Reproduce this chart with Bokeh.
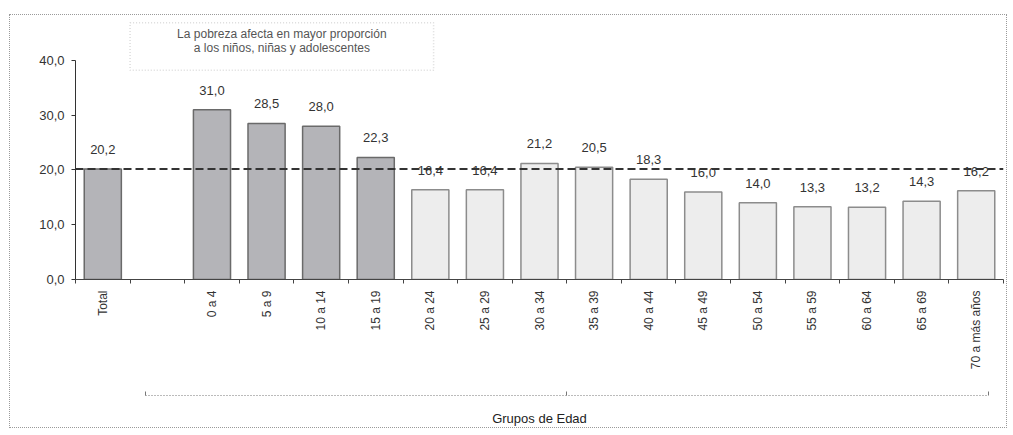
import math
from bokeh.plotting import figure
from bokeh.models import (Range1d, LinearAxis, FixedTicker, ColumnDataSource,
                          BoxAnnotation, Label, Span)
from bokeh.core.properties import value
from bokeh.embed import file_html
from bokeh.resources import INLINE

# ---- data ----
categories = ["Total", "", "0 a 4", "5 a 9", "10 a 14", "15 a 19", "20 a 24",
              "25 a 29", "30 a 34", "35 a 39", "40 a 44", "45 a 49", "50 a 54",
              "55 a 59", "60 a 64", "65 a 69", "70 a más años"]
values = [20.2, None, 31.0, 28.5, 28.0, 22.3, 16.4, 16.4, 21.2, 20.5, 18.3,
          16.0, 14.0, 13.3, 13.2, 14.3, 16.2]
highlight = ["Total", "0 a 4", "5 a 9", "10 a 14", "15 a 19"]
average = 20.2
y_ticks = [0, 10, 20, 30, 40]
note_lines = ["La pobreza afecta en mayor proporción",
              "a los niños, niñas y adolescentes"]
x_title = "Grupos de Edad"
y_unit = "%"

FONT = "Liberation Sans"
n = len(categories)

xs, tops, fills, lines, labels = [], [], [], [], []
for i, (c, v) in enumerate(zip(categories, values)):
    if v is None:
        continue
    xs.append(i + 0.5)
    tops.append(v)
    dark = c in highlight
    fills.append("#b4b4b8" if dark else "#ededed")
    lines.append("#6a6a6a" if dark else "#8c8c8c")
    labels.append(f"{v:.1f}".replace(".", ","))
src = ColumnDataSource(dict(x=xs, top=tops, fill=fills, line=lines, label=labels))

p = figure(width=998, height=414, output_backend="svg", toolbar_location=None,
           x_range=Range1d(0, n), y_range=Range1d(0, 47.85),
           x_axis_location=None, y_axis_location=None,
           min_border_left=65, min_border_right=5, min_border_top=2,
           min_border_bottom=150)
p.styles = {"border": "1px dotted #9a9a9a", "margin-left": "9px", "margin-top": "14px"}
p.grid.visible = False
p.outline_line_color = None
p.background_fill_color = "white"

# y axis
ya = LinearAxis(bounds=(0, 40), ticker=FixedTicker(ticks=y_ticks, minor_ticks=[]),
                major_label_overrides={t: f"{t:.1f}".replace(".", ",") for t in y_ticks})
ya.axis_line_color = "#333333"
ya.major_tick_line_color = "#333333"
ya.major_tick_out = 4
ya.major_tick_in = 0
ya.major_label_standoff = 7
ya.major_label_text_font = FONT
ya.major_label_text_font_size = "13px"
ya.major_label_text_color = "#333333"
p.add_layout(ya, "left")

# x axis: labels at slot centres, ticks at slot boundaries
named = [(i + 0.5, c) for i, c in enumerate(categories) if c]
xa = LinearAxis(ticker=FixedTicker(ticks=[t for t, _ in named],
                                   minor_ticks=list(range(n + 1))),
                major_label_overrides={t: c for t, c in named})
xa.axis_line_color = "#444444"
xa.major_tick_out = 0
xa.major_tick_in = 0
xa.minor_tick_out = 4
xa.minor_tick_in = 0
xa.minor_tick_line_color = "#444444"
xa.major_label_orientation = math.pi / 2
xa.major_label_standoff = 7
xa.major_label_text_font = FONT
xa.major_label_text_font_size = "12px"
xa.major_label_text_color = "#333333"
xa.axis_label = " "
xa.axis_label_text_font_size = "10px"
xa.axis_label_standoff = 9
p.add_layout(xa, "below")

# bracket axis for "Grupos de Edad"
ba = LinearAxis(bounds=(1.28, 16.72),
                ticker=FixedTicker(ticks=[], minor_ticks=[1.28, 9.0, 16.72]))
ba.axis_line_color = "#777777"
ba.axis_line_dash = "1 2"
ba.major_tick_in = 0
ba.major_tick_out = 0
ba.minor_tick_in = 4
ba.minor_tick_out = 0
ba.minor_tick_line_color = "#777777"
ba.axis_label = x_title
ba.axis_label_standoff = 15
ba.axis_label_text_font = "Liberation Sans Narrow, Liberation Sans"
ba.axis_label_text_font_style = "normal"
ba.axis_label_text_font_size = "13px"
ba.axis_label_text_color = "#222222"
p.add_layout(ba, "below")

# bars
p.vbar(x="x", top="top", width=0.68, bottom=0, source=src,
       fill_color="fill", line_color="line", line_width=1.5)

# average line
p.add_layout(Span(location=average, dimension="width", line_color="#333333",
                  line_dash="8 4", line_width=2))

# value labels
p.text(x="x", y="top", text="label", source=src, text_align="center",
       text_baseline="bottom", y_offset=-15, text_font=value(FONT),
       text_font_size="13px", text_color="#333333")

# unit label
p.add_layout(Label(x=-0.79, y=43.6, text=y_unit, text_align="center",
                   text_baseline="middle", text_font=FONT, text_font_size="12px",
                   text_font_style="bold", text_color="#333333"))

# note box
p.add_layout(BoxAnnotation(left=1.0, right=6.56, top=46.9, bottom=38.2,
                           fill_alpha=0, line_color="#8a8a8a", line_dash="1 2",
                           line_width=1.5))
for k, line in enumerate(note_lines):
    p.add_layout(Label(x=3.78, y=44.9 - k * 2.6, text=line, text_align="center",
                       text_baseline="middle", text_font=FONT,
                       text_font_size="12px", text_color="#555555"))

open("out.html", "w").write(file_html(p, INLINE))
